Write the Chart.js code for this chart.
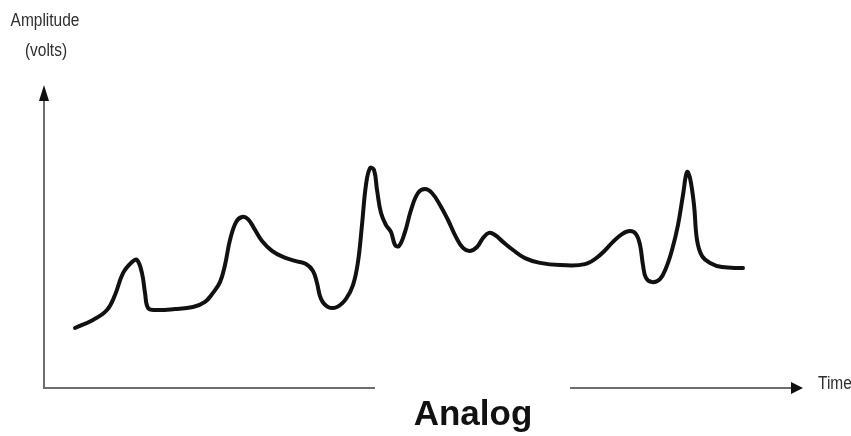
<!DOCTYPE html>
<html>
<head>
<meta charset="utf-8">
<title>Analog signal</title>
<script src="https://cdn.jsdelivr.net/npm/chart.js"></script>
<style>
  body { margin: 0; background: #fff; }
  canvas { display: block; }
</style>
</head>
<body>
<canvas id="chart" width="851" height="436"></canvas>
<script>
    // signal: time (0-100) vs amplitude (0-100)
    const times = [4.10, 6.48, 8.33, 9.39, 10.45, 11.64, 12.30, 12.96, 13.36, 13.76, 14.68, 17.33,
        19.71, 21.30, 22.35, 23.28, 23.94, 24.60, 25.40, 26.19, 26.98, 27.91, 28.84, 30.16, 31.61,
        33.33, 34.66, 35.58, 36.11, 36.64, 37.57, 38.76, 39.95, 40.87, 41.53, 42.06, 42.59, 43.12,
        43.65, 44.05, 44.58, 45.24, 45.90, 46.43, 46.96, 47.75, 48.54, 49.47, 50.40, 51.32, 52.38,
        53.44, 54.50, 55.42, 56.35, 57.28, 58.07, 58.86, 59.66, 60.71, 62.04, 63.62, 65.61, 68.25,
        71.56, 73.54, 75.26, 76.46, 77.51, 78.31, 78.84, 79.23, 79.63, 80.42, 81.48, 82.28, 83.07,
        83.86, 84.52, 85.05, 85.45, 85.98, 86.38, 87.04, 88.10, 89.68, 92.46];
    const amplitude = [20.0, 22.7, 26.0, 31.0, 38.3, 42.0, 42.7, 38.3, 31.7, 26.7, 26.0, 26.3,
        27.0, 28.7, 31.7, 35.3, 41.0, 49.3, 55.3, 57.0, 56.3, 52.7, 49.0, 45.7, 43.7,
        42.3, 41.3, 39.0, 35.0, 29.7, 27.0, 27.0, 29.7, 34.3, 42.0, 54.3, 67.7, 73.3,
        72.7, 66.0, 58.3, 54.3, 52.0, 47.7, 47.3, 52.0, 59.3, 65.0, 66.3, 65.0, 61.0,
        56.0, 50.3, 46.7, 45.7, 47.0, 50.0, 51.7, 51.0, 48.7, 46.0, 43.3, 41.7, 41.0,
        41.3, 44.3, 48.7, 51.3, 52.3, 51.3, 47.7, 41.0, 36.7, 35.3, 36.3, 40.0, 46.0,
        54.3, 64.3, 72.0, 70.0, 61.0, 49.3, 44.0, 41.7, 40.3, 40.0];

    const yTitle = ['Amplitude', '(volts)'];
    const xTitle = 'Time';
    const caption = 'Analog';

    const points = times.map((t, i) => ({ x: t, y: amplitude[i] }));

    // narrow label text, squeezed horizontally like the original
    function narrowText(ctx, text, x, y, align) {
        ctx.save();
        ctx.translate(x, y);
        ctx.scale(0.86, 1);
        ctx.textAlign = align;
        ctx.fillText(text, 0, 0);
        ctx.restore();
    }

    // axes with arrow heads, labels and the caption box
    const decorations = {
        id: 'decorations',
        beforeDatasetsDraw(chart) {
            const ctx = chart.ctx;
            const a = chart.chartArea;
            ctx.save();
            ctx.strokeStyle = '#6e6e6e';
            ctx.lineWidth = 2;
            ctx.beginPath();
            ctx.moveTo(a.left, a.top + 12);
            ctx.lineTo(a.left, a.bottom);
            ctx.lineTo(a.right - 8, a.bottom);
            ctx.stroke();

            ctx.fillStyle = '#111';
            ctx.beginPath();
            ctx.moveTo(a.left, a.top - 3);
            ctx.lineTo(a.left - 5, a.top + 13);
            ctx.lineTo(a.left + 5, a.top + 13);
            ctx.closePath();
            ctx.fill();

            ctx.beginPath();
            ctx.moveTo(a.right + 3, a.bottom);
            ctx.lineTo(a.right - 9, a.bottom - 6);
            ctx.lineTo(a.right - 9, a.bottom + 6);
            ctx.closePath();
            ctx.fill();

            ctx.fillStyle = '#2e2e2e';
            ctx.font = '18px "Liberation Sans", Arial, sans-serif';
            ctx.textBaseline = 'alphabetic';
            narrowText(ctx, yTitle[0], 45, 26, 'center');
            narrowText(ctx, yTitle[1], 46, 56, 'center');
            narrowText(ctx, xTitle, 818, 389, 'left');
            ctx.restore();
        },
        afterDraw(chart) {
            const ctx = chart.ctx;
            ctx.save();
            ctx.fillStyle = '#fff';
            ctx.fillRect(375, 380, 195, 56);
            ctx.fillStyle = '#111';
            ctx.font = 'bold 35px "Liberation Sans", Arial, sans-serif';
            ctx.textAlign = 'center';
            ctx.textBaseline = 'alphabetic';
            ctx.fillText(caption, 473, 425);
            ctx.restore();
        }
    };

    new Chart(document.getElementById('chart'), {
        type: 'line',
        data: {
            datasets: [{
                data: points,
                borderColor: '#111',
                borderWidth: 4,
                pointRadius: 0,
                fill: false,
                tension: 0.4,
                borderCapStyle: 'round',
                borderJoinStyle: 'round'
            }]
        },
        options: {
            responsive: false,
            animation: false,
            layout: { padding: { left: 44, right: 51, top: 88, bottom: 48 } },
            plugins: { legend: { display: false }, tooltip: { enabled: false } },
            scales: {
                x: { type: 'linear', min: 0, max: 100, display: false },
                y: { min: 0, max: 100, display: false }
            }
        },
        plugins: [decorations]
    });
</script>
</body>
</html>
